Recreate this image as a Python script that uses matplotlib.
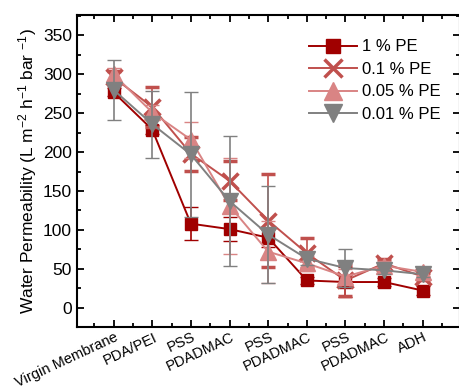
import matplotlib
matplotlib.use("Agg")
import matplotlib.pyplot as plt
from matplotlib.ticker import MultipleLocator
from matplotlib.lines import Line2D
import matplotlib.transforms as mtransforms
import numpy as np

plt.rcParams['font.family'] = ['Liberation Sans', 'DejaVu Sans']
plt.rcParams['mathtext.fontset'] = 'custom'
plt.rcParams['mathtext.rm'] = 'Liberation Sans'
plt.rcParams['mathtext.it'] = 'Liberation Sans:italic'

categories = ["Virgin Membrane", "PDA/PEI", "PSS", "PDADMAC", "PSS",
              "PDADMAC", "PSS", "PDADMAC", "ADH"]
series_names = ["1 % PE", "0.1 % PE", "0.05 % PE", "0.01 % PE"]

pe_1 = [277, 229, 108, 101, 90, 35, 33, 33, 22]
pe_1_err = [5, 6, 21, 15, 12, 5, 19, 5, 6]
pe_01 = [296, 258, 198, 163, 112, 70, 35, 57, 40]
pe_01_err = [8, 26, 22, 25, 60, 19, 20, 6, 5]
pe_005 = [300, 251, 216, 131, 72, 57, 40, 54, 46]
pe_005_err = [8, 10, 23, 62, 40, 10, 10, 6, 5]
pe_001 = [280, 236, 197, 137, 94, 63, 51, 48, 43]
pe_001_err = [39, 43, 80, 84, 62, 8, 24, 5, 4]

values = [pe_1, pe_01, pe_005, pe_001]
errors = [pe_1_err, pe_01_err, pe_005_err, pe_001_err]
colors = ["#a00000", "#c0504d", "#d98484", "#808080"]
markers = ["s", "x", "^", "v"]
msizes = [9, 12, 12, 12]

fig = plt.figure(figsize=(4.6, 3.89), dpi=100)
ax = fig.add_axes([0.167, 0.159, 0.832, 0.802])

x = np.arange(1, len(categories) + 1)
zs = [2, 3, 4, 5]
handles = []
for i in range(4):
    mew = 2.5 if markers[i] == "x" else 1
    ax.errorbar(x, values[i], yerr=errors[i], color=colors[i], marker=markers[i],
                markersize=msizes[i], markeredgewidth=mew, linewidth=1.4,
                elinewidth=1.2, capsize=5, capthick=1.2, zorder=zs[i])
    handles.append(Line2D([], [], color=colors[i], marker=markers[i],
                          markersize=msizes[i] + 1, markeredgewidth=mew,
                          linewidth=1.4, label=series_names[i]))

ax.set_xlim(0.05, 9.95)
ax.set_ylim(-25, 376)
ax.set_xticks(x)
ax.set_xticklabels([])
offset = mtransforms.ScaledTranslation(7 / 100, -3 / 100, fig.dpi_scale_trans)
for xi, lab in zip(x, categories):
    ax.text(xi, 0, lab, transform=ax.get_xaxis_transform() + offset,
            rotation=25, ha='right', va='top', fontsize=10.5, clip_on=False)
ax.xaxis.set_minor_locator(MultipleLocator(0.5))
ax.yaxis.set_major_locator(MultipleLocator(50))
ax.yaxis.set_minor_locator(MultipleLocator(25))
ax.tick_params(axis='both', which='both', direction='in', top=True, right=True,
               width=1.3)
ax.tick_params(axis='both', which='major', length=5)
ax.tick_params(axis='both', which='minor', length=3)
ax.tick_params(axis='y', labelsize=12.5)
for s in ax.spines.values():
    s.set_linewidth(1.5)

ax.set_ylabel(r"Water Permeability (L m$^{-2}$ h$^{-1}$ bar $^{-1}$)", fontsize=12.5,
              labelpad=3)

ax.legend(handles=handles, loc='upper right', bbox_to_anchor=(0.985, 0.965),
          frameon=False, fontsize=12, handlelength=2.9, borderpad=0.3,
          labelspacing=0.45, handletextpad=0.3)

fig.savefig("out.png", dpi=100)
